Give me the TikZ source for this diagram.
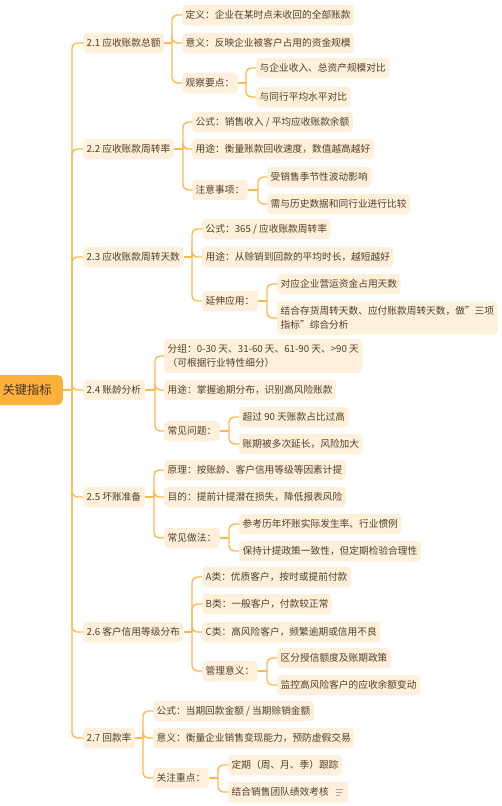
\documentclass[tikz,border=0pt]{standalone}
\usepackage{fontspec}
\setmainfont{Noto Sans CJK SC}
\usetikzlibrary{positioning,calc}
\definecolor{branchorange}{RGB}{253,185,80}
\definecolor{rootorange}{RGB}{254,176,60}
\definecolor{leafcream}{RGB}{254,240,218}
\definecolor{textbrown}{RGB}{84,62,38}

\begin{document}
\begin{tikzpicture}[x=1pt, y=-1pt,
    root/.style={fill=rootorange, text=textbrown!80!black, rounded corners=5pt,
        inner xsep=11pt, inner ysep=0pt, minimum height=30pt,
        font=\fontsize{12.3}{14}\selectfont},
    item/.style={fill=leafcream, text=textbrown, rounded corners=4pt,
        inner xsep=3.5pt, inner ysep=0pt, minimum height=20.5pt, anchor=west,
        font=\fontsize{9.7}{14}\selectfont, align=left},
    link/.style={draw=branchorange, line width=1.4pt, rounded corners=5pt}]

    \useasboundingbox (0,0) rectangle (502,806);

    % Root
    \node[root, anchor=east] (root) at (63,390) {关键指标};

    % 2.1
    \node[item] (t1) at (83,43) {2.1 应收账款总额};
    \node[item] (a11) at (182,15) {定义：企业在某时点未收回的全部账款};
    \node[item] (a12) at (182,43) {意义：反映企业被客户占用的资金规模};
    \node[item] (a13) at (182,83) {观察要点：};
    \node[item] (a131) at (256,68) {与企业收入、总资产规模对比};
    \node[item] (a132) at (256,97) {与同行平均水平对比};

    % 2.2
    \node[item] (t2) at (83,149) {2.2 应收账款周转率};
    \node[item] (a21) at (192,122) {公式：销售收入 / 平均应收账款余额};
    \node[item] (a22) at (192,149) {用途：衡量账款回收速度，数值越高越好};
    \node[item] (a23) at (192,190) {注意事项：};
    \node[item] (a231) at (267,177) {受销售季节性波动影响};
    \node[item] (a232) at (267,204) {需与历史数据和同行业进行比较};

    % 2.3
    \node[item] (t3) at (83,257) {2.3 应收账款周转天数};
    \node[item] (a31) at (202,229) {公式：365 / 应收账款周转率};
    \node[item] (a32) at (202,257) {用途：从赊销到回款的平均时长，越短越好};
    \node[item] (a33) at (202,301) {延伸应用：};
    \node[item] (a331) at (277,284) {对应企业营运资金占用天数};
    \node[item, minimum height=33pt] (a332) at (277,318) {结合存货周转天数、应付账款周转天数，做"三项\\指标"综合分析};

    % 2.4
    \node[item] (t4) at (83,390) {2.4 账龄分析};
    \node[item, minimum height=34pt] (a41) at (164,356) {分组：0-30 天、31-60 天、61-90 天、>90 天\\（可根据行业特性细分）};
    \node[item] (a42) at (164,390) {用途：掌握逾期分布，识别高风险账款};
    \node[item] (a43) at (164,431) {常见问题：};
    \node[item] (a431) at (239,417) {超过 90 天账款占比过高};
    \node[item] (a432) at (239,444) {账期被多次延长，风险加大};

    % 2.5
    \node[item] (t5) at (83,497) {2.5 坏账准备};
    \node[item] (a51) at (164,470) {原理：按账龄、客户信用等级等因素计提};
    \node[item] (a52) at (164,497) {目的：提前计提潜在损失，降低报表风险};
    \node[item] (a53) at (164,538) {常见做法：};
    \node[item] (a531) at (239,524) {参考历年坏账实际发生率、行业惯例};
    \node[item] (a532) at (239,551) {保持计提政策一致性，但定期检验合理性};

    % 2.6
    \node[item] (t6) at (83,632) {2.6 客户信用等级分布};
    \node[item] (a61) at (202,577) {A类：优质客户，按时或提前付款};
    \node[item] (a62) at (202,604) {B类：一般客户，付款较正常};
    \node[item] (a63) at (202,632) {C类：高风险客户，频繁逾期或信用不良};
    \node[item] (a64) at (202,671) {管理意义：};
    \node[item] (a641) at (277,658) {区分授信额度及账期政策};
    \node[item] (a642) at (277,685) {监控高风险客户的应收余额变动};

    % 2.7
    \node[item] (t7) at (83,738) {2.7 回款率};
    \node[item] (a71) at (153,711) {公式：当期回款金额 / 当期赊销金额};
    \node[item] (a72) at (153,738) {意义：衡量企业销售变现能力，预防虚假交易};
    \node[item] (a73) at (153,778) {关注重点：};
    \node[item] (a731) at (228,765) {定期（周、月、季）跟踪};
    \node[item] (a732) at (228,792) {结合销售团队绩效考核\hspace{16pt}};
    % note icon
    \draw[gray!70, line width=0.8pt] ($(a732.east)+(-12,-3)$) -- ++(7,0)
        ($(a732.east)+(-12,0)$) -- ++(5.5,0)
        ($(a732.east)+(-12,3)$) -- ++(4,0);

    % Trunk
    \draw[link] (root.east) -- (72,390) coordinate (trunk);
    \foreach \t in {t1,t2,t3,t4,t5,t6,t7}
        \draw[link] (trunk) |- (\t.west);

    % Branches
    \foreach \p/\jx/\kids in {t1/172/{a11,a12,a13}, t2/183/{a21,a22,a23},
            t3/192/{a31,a32,a33}, t4/155/{a41,a42,a43}, t5/154/{a51,a52,a53},
            t6/192/{a61,a62,a63,a64}, t7/143/{a71,a72,a73},
            a13/246/{a131,a132}, a23/258/{a231,a232}, a33/267/{a331,a332},
            a43/229/{a431,a432}, a53/229/{a531,a532}, a64/267/{a641,a642},
            a73/218/{a731,a732}} {
        \draw[link] (\p.east) -- (\p.east -| \jx,0) coordinate (j-\p);
        \foreach \c in \kids
            \draw[link] (j-\p) |- (\c.west);
    }
\end{tikzpicture}
\end{document}
